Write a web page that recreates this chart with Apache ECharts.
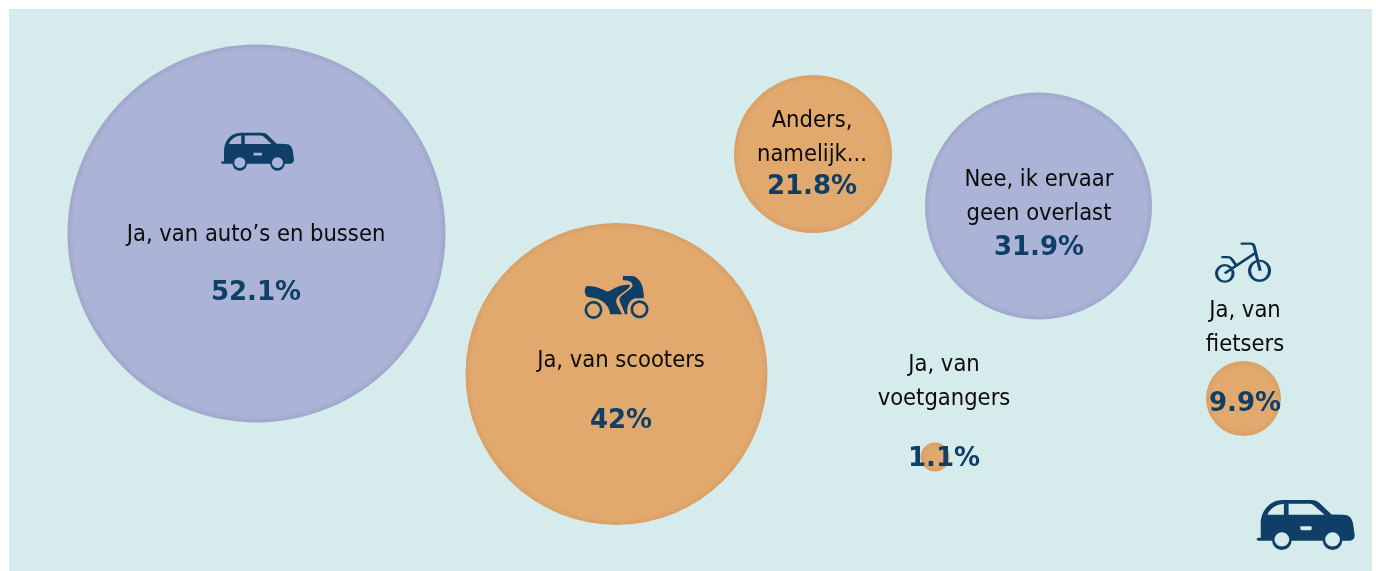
<!DOCTYPE html>
<html>
<head>
<meta charset="utf-8">
<style>html,body{margin:0;padding:0;background:#fff}#c{width:1376px;height:571px}</style>
<script src="https://cdn.jsdelivr.net/npm/echarts@6/dist/echarts.min.js"></script>
</head>
<body>
<div id="c"></div>
<script>
const categories = ["Ja, van auto’s en bussen", "Ja, van scooters", "Anders,\nnamelijk...", "Nee, ik ervaar\ngeen overlast", "Ja, van\nvoetgangers", "Ja, van\nfietsers"];
const values = [52.1, 42, 21.8, 31.9, 1.1, 9.9];
const valueLabels = ["52.1%", "42%", "21.8%", "31.9%", "1.1%", "9.9%"];
const tones = ["blue", "orange", "orange", "blue", "orange", "orange"];

// Packed-bubble layout, in canvas pixels: centre and diameter of each bubble
const bubbleX = [256.5, 616.5, 813, 1038.5, 935, 1243.5];
const bubbleY = [233.5, 374, 154, 206, 457, 398.5];
const bubbleD = [378, 302, 158, 227, 29, 75];
const nameX = [256, 621, 812, 1039, 944, 1245];
const nameY = [235, 361, 138, 197, 382, 328];
const valueX = [256, 621, 812, 1039, 944, 1245];
const valueY = [293, 421, 187, 248, 459, 404];

const INK = '#0f3f66', TEXT = '#0a0a0a', FONT = '"DejaVu Sans Condensed","DejaVu Sans",sans-serif';
const CAR = 'path://M60 163L64 163L64 120C64 80 90 45 130 45L215 45C225 45 232 48 240 55L275 90L310 91C330 91 338 105 340 125L344 155C344 165 338 172 330 172L307 172A29 29 0 0 1 249 172L156 172A29 29 0 0 1 98 172L58 172C50 172 50 163 58 163Z'
  + 'M300 168A22 22 0 1 0 256 168A22 22 0 1 0 300 168Z'
  + 'M149 168A22 22 0 1 0 105 168A22 22 0 1 0 149 168Z'
  + 'M84 91L133 91L133 57C110 59 93 71 84 91Z'
  + 'M147 91L254 91L222 61Q216 57 208 57L147 57Z'
  + 'M182 127L182 134Q182 139 186 139L212 139Q216 139 216 134L216 131Q216 127 212 127Z';
const MOTO = 'path://M50 64C70 62 95 72 110 80C125 80 135 60 178 60C185 66 165 78 150 90C136 100 136 110 142 122L156 148L120 148C118 125 100 105 75 100L50 96C42 85 42 70 50 64Z'
  + 'M158 34L188 34C212 40 222 70 221 100L195 100C178 104 168 125 172 148L164 148C160 130 145 108 148 100C158 85 190 72 187 60C185 50 172 47 158 47Z'
  + 'M97 135A27 27 0 1 1 43 135A27 27 0 1 1 97 135ZM89 135A19 19 0 1 0 51 135A19 19 0 1 0 89 135Z'
  + 'M235 133A27 27 0 1 1 181 133A27 27 0 1 1 235 133ZM227 133A19 19 0 1 0 189 133A19 19 0 1 0 227 133Z';
const BIKE = 'path://M99.5 130A24.5 24.5 0 1 1 50.5 130A24.5 24.5 0 1 1 99.5 130Z'
  + 'M207.5 122A29.5 29.5 0 1 1 148.5 122A29.5 29.5 0 1 1 207.5 122Z'
  + 'M122 42L152 42Q160 42 162 50L180 122M165 70L75 130M65 82L85 82Q92 82 96 88L108 105';

const iconSymbols = [CAR, MOTO, BIKE, CAR];
const iconX = [257.5, 616.5, 1243, 1305.7];
const iconY = [151.7, 297.5, 262.7, 525];
const iconW = [73, 64, 53, 98];
const iconH = [38, 43, 38, 50];
const iconStroked = [false, false, true, false];

function fillFor(tone, d) {
  const base = tone === 'blue' ? '#abb3d6' : '#e2a96e';
  const rim = tone === 'blue' ? '#9ea6ca' : '#d8a066';
  return { type: 'radial', x: 0.5, y: 0.5, r: 0.5, colorStops: [
    { offset: 0, color: base }, { offset: 1 - 12 / d, color: base }, { offset: 1, color: rim } ] };
}

const chart = echarts.init(document.getElementById('c'), null, { renderer: 'canvas' });
chart.setOption({
  animation: false,
  backgroundColor: '#ffffff',
  grid: { left: 9, top: 9, width: 1363, height: 562, show: true, backgroundColor: '#d6ebec', borderWidth: 0 },
  xAxis: { type: 'value', min: 9, max: 1372, show: false },
  yAxis: { type: 'value', min: 9, max: 571, inverse: true, show: false },
  series: [
    {
      type: 'scatter', z: 2, silent: true,
      data: values.map((v, i) => ({
        value: [bubbleX[i], bubbleY[i], v],
        symbolSize: bubbleD[i],
        itemStyle: { color: fillFor(tones[i], bubbleD[i]), opacity: 1 }
      }))
    },
    {
      type: 'scatter', z: 3, silent: true,
      data: iconSymbols.map((s, i) => ({
        value: [iconX[i], iconY[i]],
        symbol: s,
        symbolSize: [iconW[i], iconH[i]],
        itemStyle: iconStroked[i]
          ? { color: 'rgba(0,0,0,0)', borderColor: INK, borderWidth: 2.6, opacity: 1 }
          : { color: INK, opacity: 1 }
      }))
    },
    {
      type: 'scatter', z: 4, silent: true, symbolSize: 0, itemStyle: { opacity: 1 },
      label: { show: true, position: 'inside', formatter: p => categories[p.dataIndex], opacity: 1,
        fontFamily: FONT, fontSize: 23.5, lineHeight: 34, color: TEXT, align: 'center', verticalAlign: 'middle' },
      data: categories.map((c, i) => [nameX[i], nameY[i]])
    },
    {
      type: 'scatter', z: 5, silent: true, symbolSize: 0, itemStyle: { opacity: 1 },
      label: { show: true, position: 'inside', formatter: p => valueLabels[p.dataIndex], opacity: 1,
        fontFamily: '"DejaVu Sans",sans-serif', fontSize: 26, fontWeight: 'bold', color: INK, align: 'center', verticalAlign: 'middle' },
      data: valueLabels.map((c, i) => [valueX[i], valueY[i]])
    }
  ]
});
</script>
</body>
</html>
